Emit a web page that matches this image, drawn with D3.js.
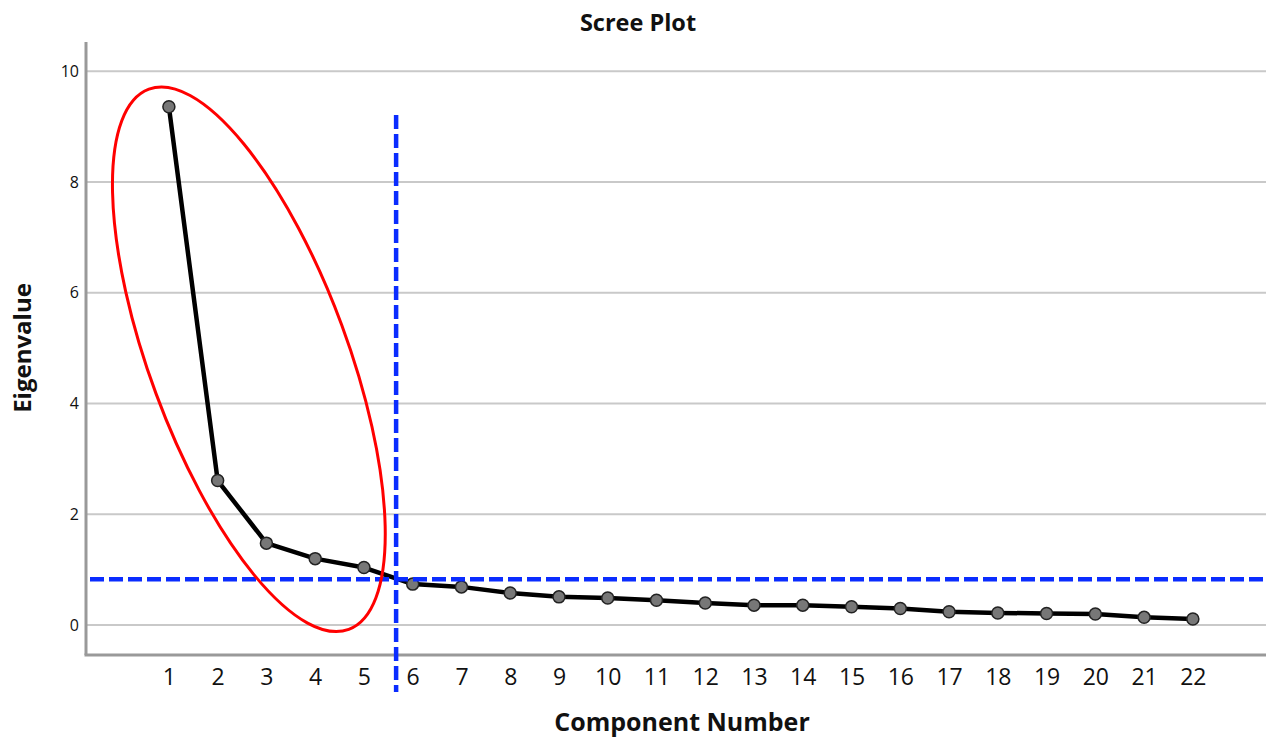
<!DOCTYPE html>
<html>
<head>
<meta charset="utf-8">
<script src="https://cdn.jsdelivr.net/npm/d3@7/dist/d3.min.js"></script>
<style>
  html, body { margin: 0; padding: 0; background: #ffffff; }
  svg { display: block; }
  text { font-family: "Open Sans", "DejaVu Sans", sans-serif; fill: #111; }
</style>
</head>
<body>
<script>
// ---- data ----
const components = [1,2,3,4,5,6,7,8,9,10,11,12,13,14,15,16,17,18,19,20,21,22];
const eigenvalues = [9.36,2.61,1.48,1.20,1.04,0.74,0.69,0.58,0.51,0.49,0.45,0.40,0.36,0.36,0.33,0.30,0.24,0.22,0.21,0.20,0.14,0.11];
const yTicks = [0,2,4,6,8,10];
const xTickLabels = components.map(String);
const cutoffEigen = 0.83;     // horizontal dashed reference
const cutoffComponent = 5.66; // vertical dashed reference
const vLineRange = [-1.21, 9.21];
const ellipseCenter = {x: 2.64, y: 4.80};

// ---- layout ----
const W = 1266, H = 738;
const mLeft = 86, mRight = 1266, mTop = 42, mBottom = 655;

const svg = d3.select("body").append("svg").attr("width", W).attr("height", H);
svg.append("rect").attr("width", W).attr("height", H).attr("fill", "#ffffff");

const x = d3.scaleLinear().domain([-0.70, 23.5]).range([mLeft, mRight]);
const y = d3.scaleLinear().domain([-0.54, 10.53]).range([mBottom, mTop]);

// gridlines
svg.append("g").selectAll("line").data(yTicks).join("line")
  .attr("x1", mLeft).attr("x2", mRight)
  .attr("y1", d => y(d)).attr("y2", d => y(d))
  .attr("stroke", "#c9c9c9").attr("stroke-width", 2);

// y axis
const yAxis = svg.append("g").attr("transform", `translate(${mLeft},0)`)
  .call(d3.axisLeft(y).tickValues(yTicks).tickSize(0).tickPadding(7).tickFormat(d3.format("d")));
yAxis.select(".domain").remove();
yAxis.selectAll("text").style("font-size", "16px").style("font-family", '"Open Sans", sans-serif').attr("fill", "#111");

// x axis
const xAxis = svg.append("g").attr("transform", `translate(0,${mBottom})`)
  .call(d3.axisBottom(x).tickValues(components).tickSize(0).tickPadding(14)
    .tickFormat((d, i) => xTickLabels[i]));
xAxis.select(".domain").remove();
xAxis.selectAll("text").style("font-size", "23px").style("font-family", '"Open Sans", sans-serif').attr("fill", "#111");

// axis lines
svg.append("line").attr("x1", mLeft).attr("x2", mLeft).attr("y1", mTop).attr("y2", mBottom)
  .attr("stroke", "#999").attr("stroke-width", 3);
svg.append("line").attr("x1", mLeft - 1.5).attr("x2", mRight).attr("y1", mBottom).attr("y2", mBottom)
  .attr("stroke", "#999").attr("stroke-width", 3);

// line + points
const pts = components.map((c, i) => ({c, v: eigenvalues[i]}));
svg.append("path").datum(pts)
  .attr("fill", "none").attr("stroke", "#000").attr("stroke-width", 4.5)
  .attr("stroke-linejoin", "round")
  .attr("d", d3.line().x(d => x(d.c)).y(d => y(d.v)));
svg.append("g").selectAll("circle").data(pts).join("circle")
  .attr("cx", d => x(d.c)).attr("cy", d => y(d.v)).attr("r", 6)
  .attr("fill", "#777").attr("stroke", "#222").attr("stroke-width", 1.5);

// dashed reference lines
svg.append("line")
  .attr("x1", mLeft + 4).attr("x2", mRight).attr("y1", y(cutoffEigen)).attr("y2", y(cutoffEigen))
  .attr("stroke", "#0a2cff").attr("stroke-width", 4.5).attr("stroke-dasharray", "14,5");
svg.append("line")
  .attr("x1", x(cutoffComponent)).attr("x2", x(cutoffComponent))
  .attr("y1", y(vLineRange[1])).attr("y2", y(vLineRange[0]))
  .attr("stroke", "#0a2cff").attr("stroke-width", 4.5).attr("stroke-dasharray", "14,5");

// red ellipse annotation
svg.append("ellipse")
  .attr("cx", 0).attr("cy", 0).attr("rx", 99).attr("ry", 288)
  .attr("transform", `translate(${x(ellipseCenter.x)},${y(ellipseCenter.y)}) rotate(-20.3)`)
  .attr("fill", "none").attr("stroke", "#ff0000").attr("stroke-width", 3);

// titles
svg.append("text").attr("x", 638).attr("y", 31).attr("text-anchor", "middle")
  .style("font-size", "23.5px").style("font-weight", "bold").text("Scree Plot");
svg.append("text").attr("x", 682).attr("y", 731).attr("text-anchor", "middle")
  .style("font-size", "25px").style("font-weight", "bold").text("Component Number");
svg.append("text").attr("transform", "translate(31,348) rotate(-90)").attr("text-anchor", "middle")
  .style("font-size", "24px").style("font-weight", "bold").text("Eigenvalue");
</script>
</body>
</html>
